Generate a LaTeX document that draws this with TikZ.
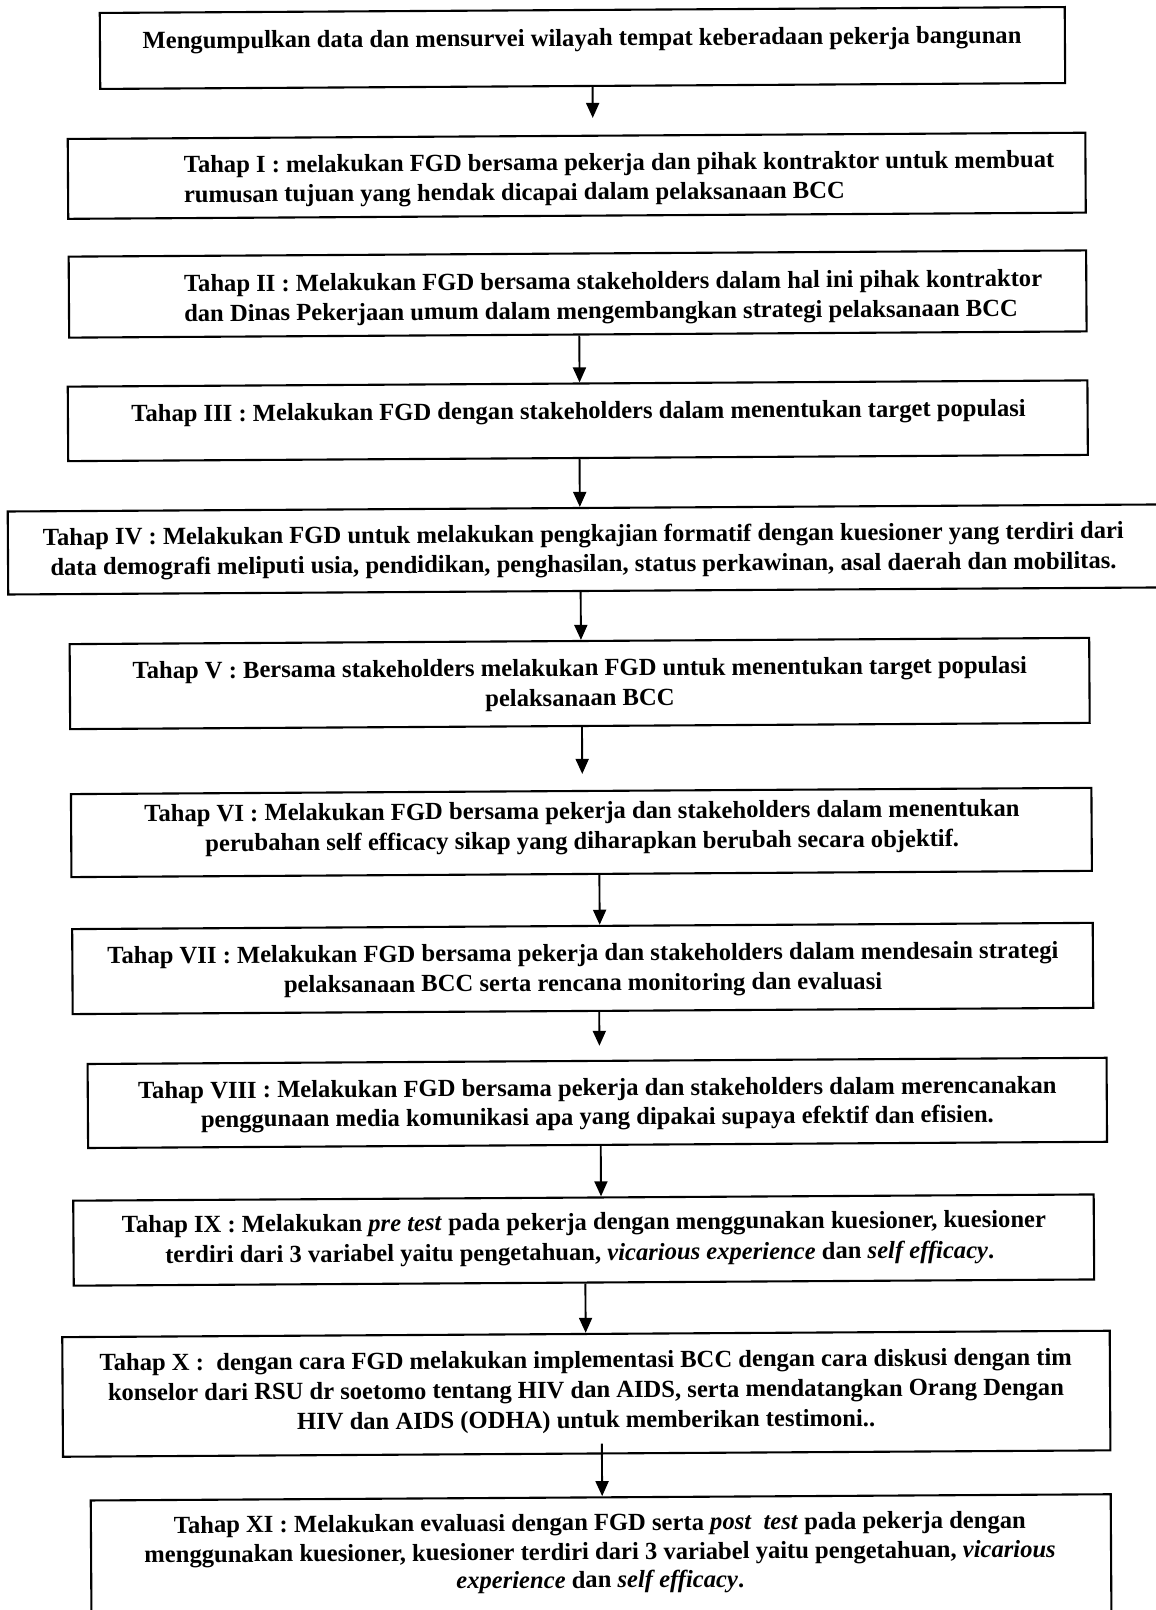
\documentclass[tikz,border=0pt]{standalone}
\usepackage{fontspec}
\setmainfont{Liberation Serif}
\usetikzlibrary{arrows.meta}
\begin{document}
\begin{tikzpicture}[x=1pt,y=-1pt,
  box/.style={draw=black, line width=2.1pt, inner sep=0pt, transform shape},
  txt/.style={anchor=base, inner sep=0pt, font=\fontsize{24.6}{29.7}\selectfont\bfseries, transform shape},
  txtl/.style={txt, anchor=base west},
  arr/.style={line width=1.9pt, -{Triangle[length=15pt,width=13pt]}}]
\useasboundingbox[fill=white] (0,0) rectangle (1156,1610);
\begin{scope}[rotate around={0.35:(578,805)}]
% boxes
\node[box, minimum width=965pt,    minimum height=76pt]   (b0)  at (587.1,48) {};
\node[box, minimum width=1017.6pt, minimum height=79.9pt] (b1)  at (580.6,175.75) {};
\node[box, minimum width=1017.5pt, minimum height=81pt]   (b2)  at (580.75,294) {};
\node[box, minimum width=1019.7pt, minimum height=74.5pt] (b3)  at (580.15,420.75) {};
\node[box, minimum width=1155.5pt, minimum height=83pt]   (b4)  at (587.25,549.5) {};
\node[box, minimum width=1019.6pt, minimum height=85pt]   (b5)  at (580.4,683.5) {};
\node[box, minimum width=1020.5pt, minimum height=83pt]   (b6)  at (581.25,832.5) {};
\node[box, minimum width=1020.6pt, minimum height=85pt]   (b7)  at (581.7,968.5) {};
\node[box, minimum width=1019pt,   minimum height=84pt]   (b8)  at (595.5,1103) {};
\node[box, minimum width=1020.5pt, minimum height=85pt]   (b9)  at (581.05,1240.1) {};
\node[box, minimum width=1047.5pt, minimum height=119.6pt] (b10) at (582.75,1393.8) {};
\node[box, minimum width=1020pt,   minimum height=132.5pt] (b11) at (596.5,1563.75) {};
% texts
\node[txt] (t0) at (586.7,46) {Mengumpulkan data dan mensurvei wilayah tempat keberadaan pekerja bangunan};
\node[txtl] (t1a) at (187.5,170.5) {Tahap I : melakukan FGD bersama pekerja dan pihak kontraktor untuk membuat};
\node[txtl] (t1b) at (187.5,200) {rumusan tujuan yang hendak dicapai dalam pelaksanaan BCC};
\node[txtl] (t2a) at (187,289.4) {Tahap II : Melakukan FGD bersama stakeholders dalam hal ini pihak kontraktor};
\node[txtl] (t2b) at (187,319) {dan Dinas Pekerjaan umum dalam mengembangkan strategi pelaksanaan BCC};
\node[txt] (t3) at (581,419) {Tahap III : Melakukan FGD dengan stakeholders dalam menentukan target populasi};
\node[txt] (t4a) at (585,542) {Tahap IV : Melakukan FGD untuk melakukan pengkajian formatif dengan kuesioner yang terdiri dari};
\node[txt] (t4b) at (585,572) {data demografi meliputi usia, pendidikan, penghasilan, status perkawinan, asal daerah dan mobilitas.};
\node[txt] (t5a) at (580.6,676) {Tahap V : Bersama stakeholders melakukan FGD untuk menentukan target populasi};
\node[txt] (t5b) at (580.6,706) {pelaksanaan BCC};
\node[txt] (t6a) at (582,819) {Tahap VI : Melakukan FGD bersama pekerja dan stakeholders dalam menentukan};
\node[txt] (t6b) at (582,849) {perubahan self efficacy sikap yang diharapkan berubah secara objektif.};
\node[txt] (t7a) at (582,961) {Tahap VII : Melakukan FGD bersama pekerja dan stakeholders dalam mendesain strategi};
\node[txt] (t7b) at (582,991) {pelaksanaan BCC serta rencana monitoring dan evaluasi};
\node[txt] (t8a) at (595.5,1096) {Tahap VIII : Melakukan FGD bersama pekerja dan stakeholders dalam merencanakan};
\node[txt] (t8b) at (595.5,1125) {penggunaan media komunikasi apa yang dipakai supaya efektif dan efisien.};
\node[txt] (t9a) at (581.4,1230) {Tahap IX : Melakukan \textit{pre test} pada pekerja dengan menggunakan kuesioner, kuesioner};
\node[txt] (t9b) at (577,1260.5) {terdiri dari 3 variabel yaitu pengetahuan, \textit{vicarious experience} dan \textit{self efficacy}.};
\node[txt] (t10a) at (582.4,1368) {Tahap X :\ \ dengan cara FGD melakukan implementasi BCC dengan cara diskusi dengan tim};
\node[txt] (t10b) at (582.4,1398) {konselor dari RSU dr soetomo tentang HIV dan AIDS, serta mendatangkan Orang Dengan};
\node[txt] (t10c) at (582.4,1428) {HIV dan AIDS (ODHA) untuk memberikan testimoni..};
\node[txt] (t11a) at (595.5,1530.7) {Tahap XI : Melakukan evaluasi dengan FGD serta \textit{post\ \ test} pada pekerja dengan};
\node[txt] (t11b) at (595.5,1560) {menggunakan kuesioner, kuesioner terdiri dari 3 variabel yaitu pengetahuan, \textit{vicarious}};
\node[txt] (t11c) at (595.5,1588) {\textit{experience} dan \textit{self efficacy}.};
% arrow coordinates
\coordinate (a0) at (597,118);
\coordinate (a2) at (582.2,383.5);
\coordinate (a3) at (581.7,508);
\coordinate (a4) at (582,641);
\coordinate (a5) at (582.5,774);
\coordinate (a6) at (599,926);
\coordinate (a7) at (598,1046);
\coordinate (a8) at (598.7,1197.6);
\coordinate (a9) at (582.5,1334);
\coordinate (s10) at (598,1444);
% arrows
\draw[arr] (b0.south -| a0) -- (a0);
\draw[arr] (b2.south -| a2) -- (b3.north -| a2);
\draw[arr] (b3.south -| a3) -- (b4.north -| a3);
\draw[arr] (b4.south -| a4) -- (b5.north -| a4);
\draw[arr] (b5.south -| a5) -- (a5);
\draw[arr] (b6.south -| a6) -- (b7.north -| a6);
\draw[arr] (b7.south -| a7) -- (a7);
\draw[arr] (b8.south -| a8) -- (b9.north -| a8);
\draw[arr] (b9.south -| a9) -- (b10.north -| a9);
\draw[arr] (s10) -- (b11.north -| s10);
\end{scope}
\end{tikzpicture}
\end{document}
